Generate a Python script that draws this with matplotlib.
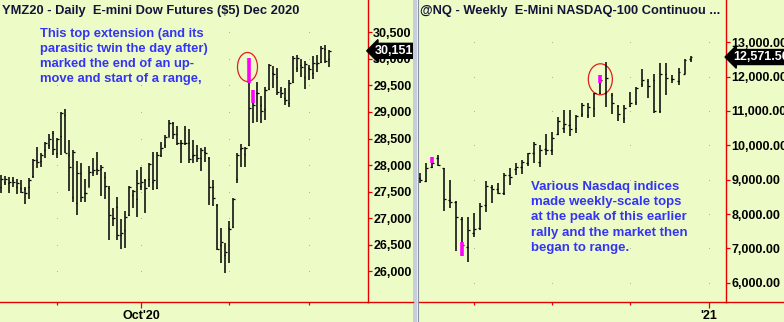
import matplotlib.pyplot as plt
import matplotlib.patches as mpatches
import matplotlib.transforms as mtransforms
from matplotlib.lines import Line2D
import numpy as np

plt.rcParams['font.family'] = ['Liberation Sans', 'DejaVu Sans']

# ---- YM daily bars (Aug 12 - Dec 8 2020) ----
ym_open = [27580, 27687, 27668, 27719, 27580, 27562, 27543, 27580, 27794, 28095,
           28076, 28283, 28378, 28597, 28221, 28547, 28943, 28189, 27405, 27279,
           27857, 27467, 27593, 27875, 27920, 27919, 27781, 27562, 27009, 27216,
           26683, 26777, 27059, 27436, 27354, 27605, 27719, 27731, 27690, 27562,
           28189, 28378, 28535, 28798, 28585, 28422, 28409, 28422, 28180, 28189,
           28127, 28252, 28140, 27580, 27248, 26495, 26306, 26808, 26840, 27731,
           28296, 28208, 28378, 29175, 29351, 29131, 29049, 29426, 29727, 29665,
           29413, 29257, 29162, 29570, 29821, 29884, 29665, 29821, 29727, 29903,
           29947, 30179, 29991]
ym_high = [27813, 27794, 27769, 27781, 27731, 27719, 27580, 27750, 28108, 28346,
           28221, 28440, 28585, 28648, 28503, 29005, 29049, 28472, 28283, 28076,
           28032, 27731, 27982, 28127, 28252, 28001, 27875, 27605, 27185, 27392,
           26978, 27135, 27605, 27530, 27907, 27970, 27731, 28045, 28252, 28252,
           28440, 28566, 28848, 28817, 28735, 28472, 28735, 28673, 28472, 28378,
           28315, 28346, 28145, 27719, 27267, 26808, 26526, 26953, 27373, 28221,
           28397, 28334, 30010, 29413, 29570, 29300, 29476, 29903, 29865, 29821,
           29476, 29445, 29602, 30054, 30073, 29991, 29966, 29884, 30054, 30073,
           30242, 30261, 30167]
ym_low = [27480, 27624, 27467, 27580, 27455, 27480, 27267, 27354, 27750, 27938,
          27970, 28127, 28296, 28189, 28127, 28189, 28221, 27518, 27311, 27059,
          27311, 27311, 27580, 27794, 27813, 27417, 27361, 26589, 26852, 26589,
          26413, 26432, 27041, 27185, 27028, 27530, 27103, 27580, 27530, 27543,
          28145, 28315, 28522, 28484, 28378, 28032, 28378, 28032, 28045, 28064,
          27894, 28064, 27248, 27229, 26400, 26162, 25961, 26162, 26808, 27656,
          27970, 27957, 28359, 28786, 28817, 28798, 28849, 29413, 29445, 29319,
          29257, 29131, 29100, 29552, 29759, 29665, 29426, 29602, 29614, 29759,
          29928, 29928, 29853]
ym_close = [27731, 27731, 27687, 27687, 27668, 27499, 27480, 27719, 28100, 28064,
            28189, 28422, 28484, 28296, 28495, 28974, 28233, 27970, 28252, 27857,
            27405, 27480, 27875, 27907, 27900, 27970, 27605, 27059, 26997, 26683,
            26714, 27028, 27593, 27518, 27656, 27687, 27562, 28020, 27710, 28189,
            28315, 28522, 28798, 28585, 28422, 28409, 28422, 28108, 28195, 28127,
            28283, 28221, 27580, 27373, 26413, 26557, 26369, 26800, 27360, 28189,
            28315, 28315, 29068, 29131, 29363, 29024, 29413, 29884, 29715, 29382,
            29351, 29225, 29539, 30010, 30010, 29853, 29903, 29803, 29916, 29928,
            30198, 29966, 30151]
ym_highlight = [(62, 30010, 29552), (63, 29413, 29175)]
ym_month_ticks = [14, 35, 57, 77]
ym_month_labels = ['', "Oct'20", '', '']
ym_levels = [26000, 26500, 27000, 27500, 28000, 28500, 29000, 29500, 30000, 30500]
ym_last = 30151

# ---- NQ weekly bars (Feb - Dec 2020) ----
nq_open = [9040, 8970, 9378, 9622, 9331, 8408, 8358, 7846, 7050, 7438,
           7580, 8250, 8777, 8719, 8620, 9136, 9300, 9378, 9476, 9767,
           9523, 9900, 9850, 10330, 10505, 10592, 10505, 10912, 10883, 11087,
           11524, 11530, 11466, 11150, 10796, 11145, 11270, 11786, 11873, 11902,
           10999, 12077, 11923, 11882, 12077, 12505]
nq_high = [9203, 9476, 9669, 9718, 9340, 8990, 8387, 7904, 7904, 8020,
           8329, 8970, 8845, 8894, 9203, 9331, 9476, 9573, 9785, 10106,
           10009, 10330, 10397, 10834, 11029, 11029, 10883, 11241, 11224, 11532,
           12048, 12435, 11515, 11174, 11174, 11562, 11707, 12214, 11923, 12077,
           12406, 12389, 12048, 12243, 12505, 12590]
nq_low = [8894, 8941, 9331, 9398, 8096, 8166, 6931, 6777, 6611, 7339,
          7534, 8067, 8329, 8583, 8553, 8845, 9136, 9165, 9398, 9494,
          9378, 9718, 9718, 10301, 10350, 10272, 10367, 10834, 10787, 10834,
          11495, 11107, 10912, 10717, 10641, 11125, 11174, 11690, 11369, 10932,
          10932, 11466, 11806, 11757, 12070, 12435]
nq_close = [8990, 9331, 9476, 9427, 8428, 8358, 7904, 7097, 7530, 7555,
            8233, 8815, 8719, 8603, 9136, 9086, 9378, 9523, 9767, 10038,
            9864, 9864, 10200, 10708, 10621, 10475, 10854, 11174, 11116, 11524,
            11902, 11950, 11224, 10912, 11078, 11224, 11669, 11902, 11728, 10999,
            12077, 11960, 11930, 12135, 12485, 12571.5]
nq_highlight = [(2, 9669, 9476), (7, 7185, 6777), (30, 12048, 11806)]
nq_quarter_ticks = [9, 22, 35, 48]
nq_quarter_labels = ['', '', '', "'21"]
nq_levels = [6000, 7000, 8000, 9000, 10000, 11000, 12000, 13000]
nq_last = 12571.5

BG = '#EDFCC6'
RED = '#E60000'
BLUE = '#3434F4'
W, H = 784, 322

fig = plt.figure(figsize=(W / 100, H / 100), dpi=100, facecolor=BG)


def px_axes(x0, x1, y_top, y_bot):
    return fig.add_axes([x0 / W, 1 - y_bot / H, (x1 - x0) / W, (y_bot - y_top) / H])


def draw_panel(ax, o, h, l, c, tick, hl, xt, xl, levels, fmt):
    ax.set_facecolor(BG)
    x = np.arange(len(o))
    ax.vlines(x, l, h, color='black', lw=1.1)
    ax.hlines(o, x - tick, x, color='black', lw=0.9)
    ax.hlines(c, x, x + tick, color='black', lw=0.9)
    for i, top, bot in hl:
        ax.vlines(i, bot, top, color='#FF00FF', lw=2.6, zorder=3)
    gx, gy = np.meshgrid(xt, levels)
    ax.scatter(gx.ravel(), gy.ravel(), s=0.6, color='#A8A8A8', lw=0, zorder=0)
    for s in ['left', 'top']:
        ax.spines[s].set_visible(False)
    for s in ['right', 'bottom']:
        ax.spines[s].set_color(RED)
        ax.spines[s].set_linewidth(1.0)
    ax.yaxis.tick_right()
    ax.set_yticks(levels)
    ax.set_yticklabels([fmt.format(v) for v in levels])
    ax.tick_params(axis='y', direction='out', length=3, width=0.9, color=RED, pad=1,
                   labelsize=9, labelcolor='black')
    for t in ax.get_yticklabels():
        t.set_fontweight('bold')
    major = [p for p, lab in zip(xt, xl) if lab]
    minor = [p for p, lab in zip(xt, xl) if not lab]
    ax.set_xticks(major)
    ax.set_xticklabels([lab for lab in xl if lab])
    ax.set_xticks(minor, minor=True)
    ax.tick_params(axis='x', which='major', direction='out', length=4.5, width=0.9,
                   color=RED, pad=1.5, labelsize=9)
    ax.tick_params(axis='x', which='minor', direction='out', length=2.5, width=0.9,
                   color=RED)
    for t in ax.get_xticklabels():
        t.set_fontweight('bold')


# left panel (YM daily)
ax1 = px_axes(0, 367.7, 0, 302)
draw_panel(ax1, ym_open, ym_high, ym_low, ym_close, 0.4, ym_highlight,
           ym_month_ticks, ym_month_labels, ym_levels, '{:,.0f}')
ax1.set_xlim(-0.325, 91.6)
ax1.set_ylim(25422, 31108)

# right panel (NQ weekly)
ax2 = px_axes(418, 726, 0, 302)
draw_panel(ax2, nq_open, nq_high, nq_low, nq_close, 0.3, nq_highlight,
           nq_quarter_ticks, nq_quarter_labels, nq_levels, '{:,.2f}')
ax2.set_xlim(-0.333, 50.9)
ax2.set_ylim(5438, 14232)

# bottom red rule continues under the price scale
fig.add_artist(Line2D([367.7 / W, 413 / W], [20 / H, 20 / H], color=RED, lw=1.0))
fig.add_artist(Line2D([726 / W, 1], [20 / H, 20 / H], color=RED, lw=1.0))

# separator between the two charts
fig.add_artist(mpatches.Rectangle((413 / W, 0), 4 / W, 1, color='#C6CDDB', lw=0))
fig.add_artist(Line2D([417.5 / W, 417.5 / W], [0, 1], color='#8A92A0', lw=0.8))

# last price tags
for ax, val, txt in [(ax1, ym_last, '30,151'), (ax2, nq_last, '12,571.50')]:
    tr = mtransforms.blended_transform_factory(ax.transAxes, ax.transData)
    ax.annotate(txt, xy=(1.0, val), xycoords=tr, xytext=(5, 0),
                textcoords='offset points', ha='left', va='center', color='white',
                fontsize=9, fontweight='bold', annotation_clip=False, zorder=5,
                bbox=dict(boxstyle='larrow,pad=0.12', fc='black', ec='black'))

# titles
fig.text(2 / W, 1 - 11 / H, 'YMZ20 - Daily  E-mini Dow Futures ($5) Dec 2020',
         fontsize=9.3, fontweight='bold', color='#14143A', va='center', ha='left')
fig.text(420 / W, 1 - 11 / H, '@NQ - Weekly  E-Mini NASDAQ-100 Continuou ...',
         fontsize=9.3, fontweight='bold', color='#14143A', va='center', ha='left')

# blue commentary
left_note = ['This top extension (and its', 'parasitic twin the day after)',
             'marked the end of an up-', 'move and start of a range,']
for k, line in enumerate(left_note):
    fig.text(40 / W, 1 - (37 + 15 * k) / H, line, fontsize=9.4, fontweight='bold',
             color=BLUE, va='baseline', ha='left')
right_note = ['Various Nasdaq indices', 'made weekly-scale tops',
              'at the peak of this earlier', 'rally and the market then',
              'began to range.']
for k, line in enumerate(right_note):
    fig.text(530.7 / W, 1 - (190 + 15.2 * k) / H, line, fontsize=9.5, fontweight='bold',
             color=BLUE, va='baseline', ha='left')

# red circles round the extension bars
ax1.add_patch(mpatches.Ellipse((61.55, 29847), 5.0, 546, fill=False, ec='#E02020', lw=0.9))
ax2.add_patch(mpatches.Ellipse((30.0, 11923), 4.0, 903, fill=False, ec='#E02020', lw=0.9))

fig.savefig('out.png', dpi=100, facecolor=BG)
